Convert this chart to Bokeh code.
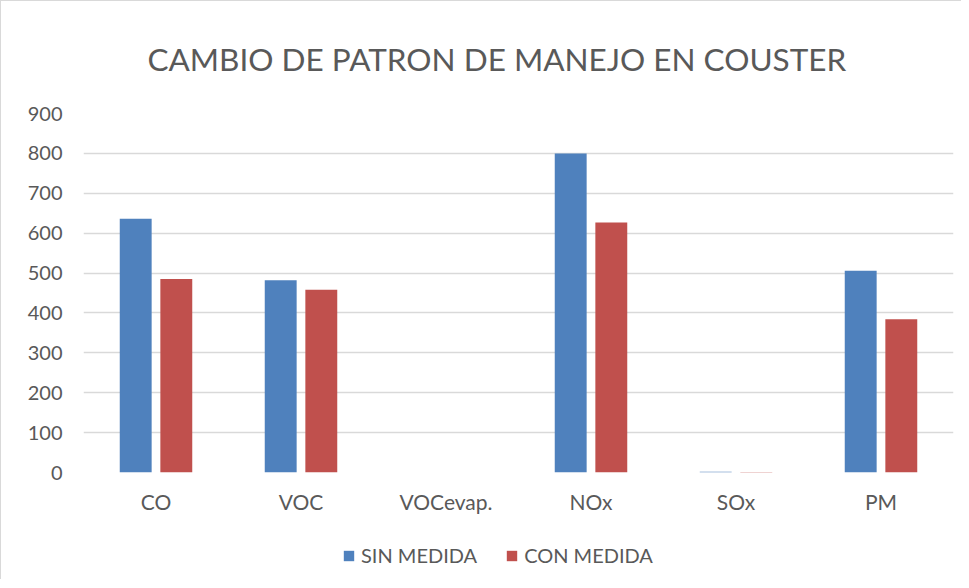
from bokeh.plotting import figure
from bokeh.models import FactorRange, Range1d, Legend, LegendItem, FixedTicker, ColumnDataSource
from bokeh.layouts import column
from bokeh.transform import dodge
from bokeh.embed import file_html
from bokeh.resources import INLINE

categories = ["CO", "VOC", "VOCevap.", "NOx", "SOx", "PM"]
sin_medida = [636, 482, 0, 800, 2, 506]
con_medida = [485, 458, 0, 627, 1, 384]
y_ticks = [0, 100, 200, 300, 400, 500, 600, 700, 800, 900]
title_text = "CAMBIO DE PATRON DE MANEJO EN COUSTER"
series_names = ["SIN MEDIDA", "CON MEDIDA"]

BLUE = "#4F81BD"
RED = "#C0504D"
TXT = "#595959"
GRID = "#D9D9D9"
FONT = "Lato"

src = ColumnDataSource(dict(cat=categories, sin=sin_medida, con=con_medida))

p = figure(x_range=FactorRange(*categories, range_padding=0), y_range=Range1d(0, 900),
           width=960, height=520, output_backend="svg", toolbar_location=None,
           min_border_left=82, min_border_right=8, min_border_top=111, min_border_bottom=49)

p.vbar(x=dodge("cat", -0.14, range=p.x_range), top="sin", width=0.22, source=src,
       fill_color=BLUE, line_color=None)
p.vbar(x=dodge("cat", 0.14, range=p.x_range), top="con", width=0.22, source=src,
       fill_color=RED, line_color=None)

p.title.text = title_text
p.title.text_font = FONT
p.title.text_font_size = "31.5px"
p.title.text_font_style = "normal"
p.title.text_color = TXT
p.title.align = "left"
p.title.offset = 64
p.title.standoff = 72

p.outline_line_color = None
p.xgrid.grid_line_color = None
p.ygrid.grid_line_color = GRID
p.ygrid.grid_line_width = 1.5
p.yaxis.ticker = FixedTicker(ticks=y_ticks)

for ax in (p.xaxis, p.yaxis):
    ax.axis_line_color = None
    ax.major_tick_line_color = None
    ax.minor_tick_line_color = None
    ax.major_tick_out = 0
    ax.major_tick_in = 0
    ax.minor_tick_out = 0
    ax.major_label_text_font = FONT
    ax.major_label_text_font_size = "20px"
    ax.major_label_text_color = TXT
p.xaxis.major_label_text_font_size = "21px"
p.yaxis.major_label_standoff = 21
p.xaxis.major_label_standoff = 16

# legend strip below the chart (same bar renderers, hidden; only their legend swatches show)
leg = figure(x_range=p.x_range, y_range=Range1d(-2, -1),
             width=960, height=58, output_backend="svg", toolbar_location=None,
             x_axis_location=None, y_axis_location=None,
             min_border_left=0, min_border_right=0, min_border_top=0, min_border_bottom=0)
leg.outline_line_color = None
leg.xgrid.visible = False
leg.ygrid.visible = False
l1 = leg.vbar(x="cat", top="sin", width=0.22, source=src, fill_color=BLUE, line_color=None)
l2 = leg.vbar(x="cat", top="con", width=0.22, source=src, fill_color=RED, line_color=None)
l1.visible = False
l2.visible = False

legend = Legend(items=[LegendItem(label=series_names[0], renderers=[l1]),
                       LegendItem(label=series_names[1], renderers=[l2])],
                orientation="horizontal", location=(259, 12),
                glyph_width=13, glyph_height=13, label_standoff=6, spacing=28,
                label_text_font=FONT, label_text_font_size="20px", label_text_color=TXT,
                border_line_color=None, background_fill_alpha=0, padding=5, margin=0,
                inactive_fill_alpha=0)
leg.add_layout(legend, "center")

layout = column(p, leg, spacing=0)
layout.styles = {"border-top": "1px solid #D9D9D9", "border-left": "1px solid #D9D9D9"}

open("out.html", "w").write(file_html(layout, INLINE))
